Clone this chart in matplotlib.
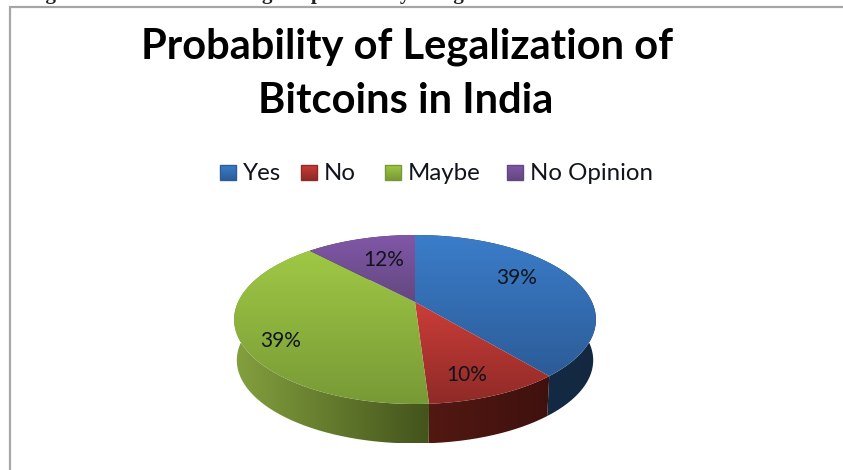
import numpy as np
import matplotlib
matplotlib.use("Agg")
import matplotlib.pyplot as plt
from matplotlib.path import Path
from matplotlib.patches import PathPatch, Rectangle

plt.rcParams['font.family'] = ['Lato', 'DejaVu Sans']

# data
labels = ["Yes", "No", "Maybe", "No Opinion"]
values = [39, 10, 39, 12]
pct_labels = ["39%", "10%", "39%", "12%"]
title = "Probability of Legalization of\nBitcoins in India"
caption = "Figure 2: Pie chart showing the probability of legalization"

# top face colours (top of the slice, bottom of the slice)
top_cols = ["#3b7dca", "#cb3d38", "#9fc845", "#8157a8"]
low_cols = ["#2c5c98", "#8f2a27", "#789a36", "#634880"]
# side colours (left, right)
side_cols = [("#16304f", "#132840"), ("#521812", "#3f110e"), ("#83a03e", "#44541c"), ("#3f2f55", "#3f2f55")]
leg_x = [220, 301, 385, 507]
lab_xy = [(517, 278), (467, 375), (281, 341), (384, 260)]

# pie centre, radii and tilt, pixels
cx, cy = 415, 302
rx, ry, tilt = 177, 80.9, 0.207
depth = 41


def project(xy, shift=0, shrink=1.0):
    # perspective from the unit circle of ax.pie to the picture
    w = 1 + tilt * xy[:, 1]
    return np.column_stack((cx + shrink * rx * xy[:, 0] / w,
                            cy + shift - shrink * ry * xy[:, 1] / w))


def arc(wedge):
    a = np.radians(np.linspace(wedge.theta1, wedge.theta2, 240))
    return np.column_stack((np.cos(a), np.sin(a)))


def rgb(c):
    return np.array(matplotlib.colors.to_rgb(c))


def gradient(ax, c0, c1, box, horizontal=False, clip=None, z=2):
    t = np.linspace(0, 1, 64)[:, None]
    img = rgb(c0) * (1 - t) + rgb(c1) * t
    img = img[None, :, :] if horizontal else img[:, None, :]
    im = ax.imshow(img, extent=box, origin="upper", aspect="auto", interpolation="bilinear", zorder=z)
    if clip is not None:
        im.set_clip_path(clip)
    return im


def fill_shape(ax, verts, c0, c1, horizontal, z):
    shape = PathPatch(Path(verts), fc="none", ec="none", transform=ax.transData)
    ax.add_patch(shape)
    box = (verts[:, 0].min(), verts[:, 0].max(), verts[:, 1].max(), verts[:, 1].min())
    gradient(ax, c0, c1, box, horizontal=horizontal, clip=shape, z=z)


fig = plt.figure(figsize=(8.43, 4.7), dpi=100)
ax = fig.add_axes([0, 0, 1, 1])

# flat pie only gives the slice angles, the tilted faces are painted from them
wedges, _ = ax.pie(values, startangle=90, counterclock=False, radius=1)
ax.set_aspect("auto")
ax.axis("off")

# side wall between the top rim and a slightly smaller rim below it
for w, (c0, c1) in zip(wedges, side_cols):
    w.set_visible(False)
    rim = arc(w)
    ring = np.vstack((project(rim), project(rim, depth, 0.985)[::-1]))
    fill_shape(ax, ring, c0, c1, True, 2)

# top faces
for w, c0, c1 in zip(wedges, top_cols, low_cols):
    face = project(np.vstack(([[0, 0]], arc(w))))
    fill_shape(ax, face, c0, c1, False, 3)

# percent labels
for (x, y), s in zip(lab_xy, pct_labels):
    ax.text(x, y, s, fontsize=15, color="#10141c", ha="center", va="center", zorder=5)

# frame of the chart, open at the right and bottom
ax.plot([9.5, 9.5, 843], [470, 6.5, 6.5], color="#a6a6a6", lw=1.6, solid_joinstyle="miter", zorder=1)

# rest of the caption cut off by the top edge
ax.text(27, -1, caption, family="Liberation Serif", fontweight="bold", fontsize=15, color="#222222",
        ha="left", va="baseline", zorder=1)

first, second = title.split("\n")
ax.text(407, 47, first, fontsize=30, fontweight="bold", color="black", ha="center", va="center")
ax.text(406, 101, second, fontsize=30, fontweight="bold", color="black", ha="center", va="center")

# legend
for x, s, c0, c1 in zip(leg_x, labels, top_cols, low_cols):
    gradient(ax, c0, c1, (x, x + 16, 180, 165))
    ax.add_patch(Rectangle((x, 165), 16, 15, fc="none", ec=c1, lw=1, zorder=3))
    ax.text(x + 23, 173, s, fontsize=17.3, color="#10141c", ha="left", va="center")

ax.set_xlim(0, 843)
ax.set_ylim(470, 0)
ax.set_aspect("auto")

plt.savefig("out.png", dpi=100)
